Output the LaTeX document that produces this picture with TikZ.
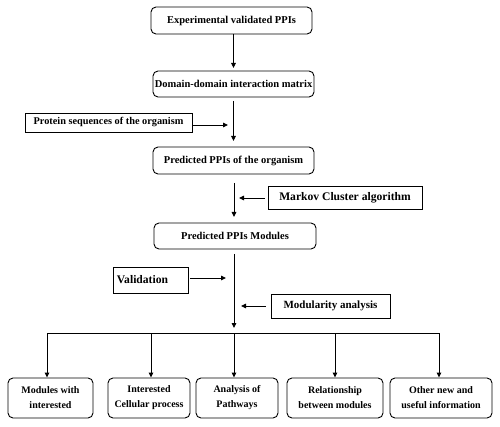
\documentclass[tikz,border=0pt]{standalone}
\usepackage{fontspec}
\setmainfont{Liberation Serif}
\usetikzlibrary{arrows.meta,calc}
\begin{document}
\begin{tikzpicture}[x=1pt,y=-1pt,
  rbox/.style={draw,line width=0.9pt,rounded corners=5pt,inner sep=0pt,align=center,font=\bfseries\fontsize{10.5}{12}\selectfont},
  sbox/.style={draw,line width=0.9pt,inner sep=0pt,align=center},
  bbox/.style={draw,line width=0.9pt,rounded corners=5pt,inner sep=0pt,align=center,minimum height=40pt,font=\bfseries\fontsize{10}{15}\selectfont},
  arr/.style={line width=0.9pt,-{Triangle[length=5pt,width=4.5pt]}},
  ln/.style={line width=0.9pt}]
\useasboundingbox (0,0) rectangle (500,427);
% main chain
\node[rbox,minimum width=161pt,minimum height=27pt] (b1) at (231.5,20.5) {Experimental validated PPIs};
\node[rbox,minimum width=161pt,minimum height=26pt] (b2) at (233.5,84) {Domain-domain interaction matrix};
\node[rbox,minimum width=161pt,minimum height=27pt] (b3) at (233.5,160.5) {Predicted PPIs of the organism};
\node[rbox,minimum width=162pt,minimum height=26pt] (b4) at (235,236) {Predicted PPIs Modules};
% side boxes
\node[sbox,minimum width=167pt,minimum height=19pt,font=\bfseries\fontsize{10.3}{12}\selectfont] (prot) at (108.5,122.5) {Protein sequences of the organism};
\node[sbox,minimum width=154pt,minimum height=23pt,font=\bfseries\fontsize{11.6}{14}\selectfont] (mark) at (345,197.5) {Markov Cluster algorithm};
\node[sbox,minimum width=75pt,minimum height=26pt,font=\bfseries\fontsize{11.6}{14}\selectfont] (val) at (150.5,280) {\hspace*{-16pt}Validation};
\node[sbox,minimum width=119pt,minimum height=24pt,font=\bfseries\fontsize{11}{13}\selectfont] (mod) at (330.5,306) {Modularity analysis};
% bottom boxes
\node[bbox,minimum width=85pt] (o1) at (50.5,398) {Modules with\\interested};
\node[bbox,minimum width=82pt] (o2) at (149,398) {Interested\\Cellular process};
\node[bbox,minimum width=82pt] (o3) at (237,398) {Analysis of\\Pathways};
\node[bbox,minimum width=96pt] (o4) at (335,398) {Relationship\\between modules};
\node[bbox,minimum width=102pt] (o5) at (441,398) {Other new and\\useful information};
% coordinates
\coordinate (a1s) at (233.5,34);
\coordinate (a1e) at (233.5,68);
\coordinate (a2s) at (233.5,101);
\coordinate (a2e) at (233.5,141);
\coordinate (pe) at (228,125);
\coordinate (a3s) at (234,183);
\coordinate (a3e) at (234,217);
\coordinate (me) at (239,198);
\coordinate (a4s) at (234,254);
\coordinate (a4e) at (234,328);
\coordinate (ve) at (226,278);
\coordinate (moe) at (241,306);
\coordinate (hl) at (47,333);
\coordinate (hr) at (439,333);
\coordinate (d1) at (47,333);
\coordinate (d2) at (151,333);
\coordinate (d3) at (234,333);
\coordinate (d4) at (335,333);
\coordinate (d5) at (439,333);
% connectors
\draw[arr] (a1s) -- (a1e);
\draw[arr] (a2s) -- (a2e);
\draw[arr] (prot.east) ++(0,2.5) -- (pe);
\draw[arr] (a3s) -- (a3e);
\draw[arr] (mark.west) ++(-3,0.5) -- (me);
\draw[arr] (a4s) -- (a4e);
\draw[arr] (val.east) ++(2,-2) -- (ve);
\draw[arr] (mod.west) ++(-5,0) -- (moe);
\draw[ln] (hl) -- (hr);
\draw[arr] (d1) -- (o1.north -| d1);
\draw[arr] (d2) -- (o2.north -| d2);
\draw[arr] (d3) -- (o3.north -| d3);
\draw[arr] (d4) -- (o4.north -| d4);
\draw[arr] (d5) -- (o5.north -| d5);
\end{tikzpicture}
\end{document}
